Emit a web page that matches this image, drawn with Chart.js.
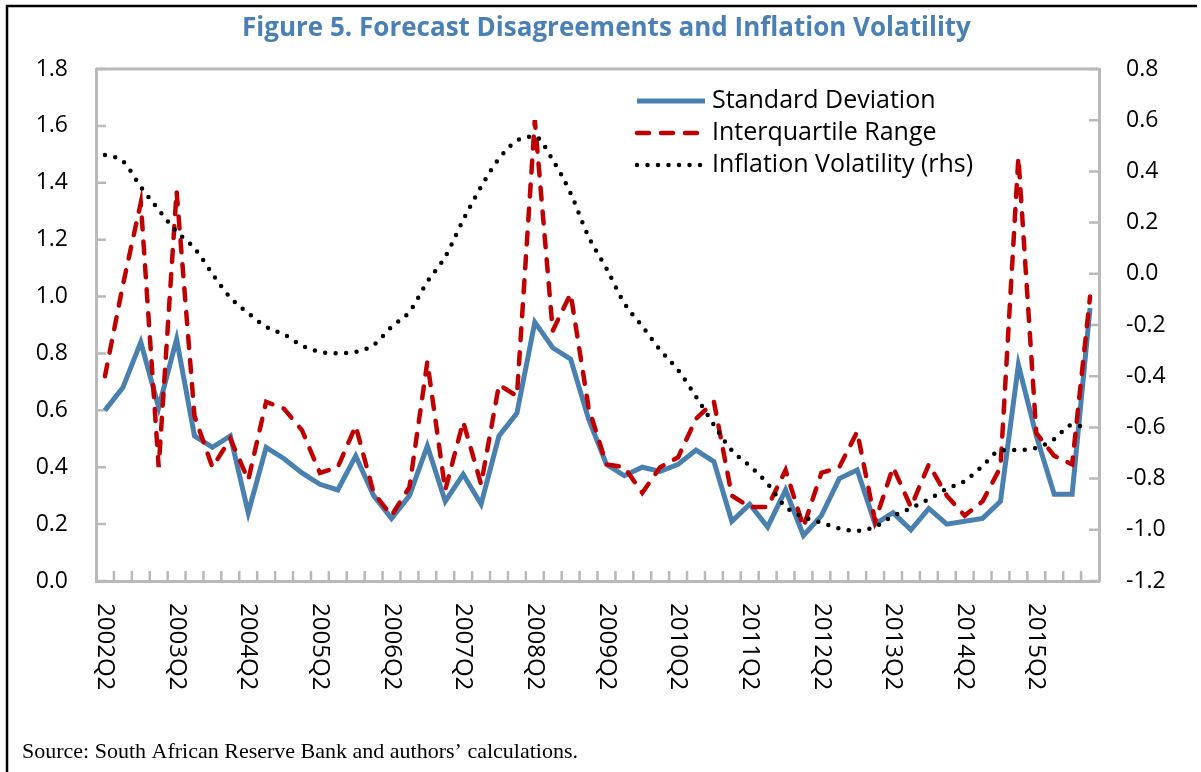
<!DOCTYPE html>
<html>
<head>
<meta charset="utf-8">
<script src="https://cdn.jsdelivr.net/npm/chart.js@4.4.1/dist/chart.umd.min.js"></script>
<style>
  body { margin: 0; background: #fff; }
  #wrap { width: 1201px; height: 772px; }
</style>
</head>
<body>
<div id="wrap"><canvas id="myChart" width="1201" height="772"></canvas></div>
<script>
// quarterly categories, 2002Q2 .. 2016Q1
const quarters = [
  '2002Q2', '2002Q3', '2002Q4', '2003Q1', '2003Q2', '2003Q3', '2003Q4', '2004Q1',
  '2004Q2', '2004Q3', '2004Q4', '2005Q1', '2005Q2', '2005Q3', '2005Q4', '2006Q1',
  '2006Q2', '2006Q3', '2006Q4', '2007Q1', '2007Q2', '2007Q3', '2007Q4', '2008Q1',
  '2008Q2', '2008Q3', '2008Q4', '2009Q1', '2009Q2', '2009Q3', '2009Q4', '2010Q1',
  '2010Q2', '2010Q3', '2010Q4', '2011Q1', '2011Q2', '2011Q3', '2011Q4', '2012Q1',
  '2012Q2', '2012Q3', '2012Q4', '2013Q1', '2013Q2', '2013Q3', '2013Q4', '2014Q1',
  '2014Q2', '2014Q3', '2014Q4', '2015Q1', '2015Q2', '2015Q3', '2015Q4', '2016Q1'
];

// left axis
const stdDev = [
  0.60, 0.68, 0.84, 0.61, 0.85, 0.51, 0.47, 0.51,
  0.24, 0.47, 0.43, 0.38, 0.34, 0.32, 0.44, 0.30,
  0.22, 0.30, 0.475, 0.28, 0.375, 0.27, 0.51, 0.59,
  0.91, 0.82, 0.78, 0.57, 0.41, 0.37, 0.40, 0.385,
  0.41, 0.46, 0.42, 0.21, 0.27, 0.19, 0.32, 0.16,
  0.23, 0.36, 0.39, 0.20, 0.24, 0.18, 0.255, 0.20,
  0.21, 0.22, 0.28, 0.76, 0.51, 0.305, 0.305, 0.96
];

const iqRange = [
  0.72, 1.04, 1.33, 0.40, 1.37, 0.58, 0.40, 0.50,
  0.355, 0.63, 0.605, 0.53, 0.38, 0.40, 0.545, 0.31,
  0.23, 0.33, 0.77, 0.32, 0.56, 0.34, 0.69, 0.65,
  1.62, 0.88, 1.01, 0.61, 0.41, 0.40, 0.31, 0.40,
  0.435, 0.57, 0.63, 0.30, 0.26, 0.26, 0.39, 0.19,
  0.38, 0.40, 0.525, 0.21, 0.40, 0.26, 0.41, 0.30,
  0.23, 0.28, 0.40, 1.49, 0.52, 0.44, 0.41, 1.00
];

// right axis (rhs)
const inflVol = [
  0.464, 0.44, 0.34, 0.25, 0.165, 0.10, 0.00, -0.093,
  -0.154, -0.207, -0.237, -0.28, -0.305, -0.31, -0.305, -0.278,
  -0.207, -0.148, -0.031, 0.067, 0.21, 0.34, 0.45, 0.52,
  0.536, 0.445, 0.314, 0.145, 0.021, -0.115, -0.205, -0.298,
  -0.376, -0.48, -0.59, -0.69, -0.75, -0.82, -0.91, -0.95,
  -0.972, -0.995, -1.004, -0.988, -0.946, -0.915, -0.88, -0.84,
  -0.81, -0.75, -0.69, -0.688, -0.68, -0.646, -0.59, -0.605
];

const leftRange = [0, 1.8];
const rightRange = [-1.2, 0.8];
const tickStep = 0.2;

const axisGrey = '#b9b9b9';
const fontFamily = '"Open Sans", "Noto Sans", sans-serif';

const fmt = v => (Math.abs(v) < 1e-9 ? 0 : v).toFixed(1);

const extras = {
  id: 'extras',
  beforeDraw(chart) {
    const ctx = chart.ctx;
    ctx.save();
    ctx.fillStyle = '#fff';
    ctx.fillRect(0, 0, chart.width, chart.height);
    // figure frame (left and top)
    ctx.strokeStyle = '#000';
    ctx.lineWidth = 2.5;
    ctx.beginPath();
    ctx.moveTo(7, chart.height);
    ctx.lineTo(7, 6);
    ctx.lineTo(1197, 6);
    ctx.stroke();
    ctx.restore();
  },
  beforeDatasetsDraw(chart) {
    const {ctx, chartArea: a, scales: {x, y, y1}} = chart;
    ctx.save();
    ctx.strokeStyle = axisGrey;
    ctx.lineWidth = 3;
    ctx.beginPath();
    ctx.moveTo(a.left, a.top);
    ctx.lineTo(a.right, a.top);
    ctx.stroke();
    // inward tick marks
    ctx.lineWidth = 2.5;
    ctx.beginPath();
    y.ticks.forEach((t, i) => {
      const py = y.getPixelForTick(i);
      ctx.moveTo(a.left, py);
      ctx.lineTo(a.left + 10, py);
    });
    y1.ticks.forEach((t, i) => {
      const py = y1.getPixelForTick(i);
      ctx.moveTo(a.right, py);
      ctx.lineTo(a.right - 10, py);
    });
    const half = (x.getPixelForValue(1) - x.getPixelForValue(0)) / 2;
    quarters.forEach((q, i) => {
      if (i === 0) return;
      const px = x.getPixelForValue(i) - half;
      ctx.moveTo(px, a.bottom);
      ctx.lineTo(px, a.bottom - 10);
    });
    ctx.stroke();
    ctx.restore();
  },
  afterDraw(chart) {
    const {ctx, chartArea: a, scales: {x}} = chart;
    ctx.save();
    // vertical year labels, reading downwards
    ctx.fillStyle = '#000';
    ctx.font = '24px ' + fontFamily;
    ctx.textAlign = 'left';
    ctx.textBaseline = 'middle';
    quarters.forEach((q, i) => {
      if (!q.endsWith('Q2')) return;
      ctx.save();
      ctx.translate(x.getPixelForValue(i), a.bottom + 22);
      ctx.rotate(Math.PI / 2);
      ctx.fillText(q, 0, 0);
      ctx.restore();
    });
    // legend inside the plot
    const lx = a.right - 464;
    const ly = a.top + 32;
    chart.data.datasets.forEach((ds, k) => {
      const yy = ly + k * 32;
      ctx.save();
      ctx.strokeStyle = ds.borderColor;
      ctx.lineWidth = ds.borderWidth;
      ctx.setLineDash(ds.borderDash || []);
      ctx.lineCap = ds.borderCapStyle || 'butt';
      ctx.beginPath();
      ctx.moveTo(lx + 2, yy);
      ctx.lineTo(lx + 70, yy);
      ctx.stroke();
      ctx.fillStyle = '#000';
      ctx.font = '25px ' + fontFamily;
      ctx.textBaseline = 'middle';
      ctx.fillText(ds.label, lx + 77, yy);
      ctx.restore();
    });
    ctx.restore();
  }
};

const ctx = document.getElementById('myChart').getContext('2d');
const myChart = new Chart(ctx, {
  type: 'line',
  data: {
    labels: quarters,
    datasets: [
      {
        label: 'Standard Deviation',
        data: stdDev,
        yAxisID: 'y',
        borderColor: '#4a80b0',
        borderWidth: 5,
        pointRadius: 0,
        tension: 0,
        order: 3
      },
      {
        label: 'Interquartile Range',
        data: iqRange,
        yAxisID: 'y',
        borderColor: '#c00000',
        borderWidth: 4.5,
        borderDash: [12, 12],
        borderCapStyle: 'round',
        pointRadius: 0,
        tension: 0,
        order: 2
      },
      {
        label: 'Inflation Volatility (rhs)',
        data: inflVol,
        yAxisID: 'y1',
        borderColor: '#000000',
        borderWidth: 4.5,
        borderDash: [0, 10.5],
        borderCapStyle: 'round',
        pointRadius: 0,
        cubicInterpolationMode: 'monotone',
        order: 1
      }
    ]
  },
  options: {
    responsive: false,
    animation: false,
    devicePixelRatio: 1,
    layout: {
      padding: { left: 22, right: 10, top: 0, bottom: 0 }
    },
    plugins: {
      legend: { display: false },
      tooltip: { enabled: false },
      title: {
        display: true,
        text: 'Figure 5. Forecast Disagreements and Inflation Volatility',
        color: '#4a80b5',
        font: { family: fontFamily, size: 26, weight: 'bold' },
        padding: { top: 13, bottom: 24.8 }
      },
      subtitle: {
        display: true,
        position: 'bottom',
        align: 'start',
        text: 'Source: South African Reserve Bank and authors\u2019 calculations.',
        color: '#000',
        font: { family: '"Liberation Serif", "Times New Roman", serif', size: 22 },
        padding: { top: 0, bottom: 7 }
      }
    },
    scales: {
      x: {
        type: 'category',
        offset: true,
        grid: { display: true, offset: true, drawOnChartArea: false, drawTicks: false },
        border: { display: true, color: axisGrey, width: 3 },
        ticks: { display: false },
        afterFit(scale) { scale.height = 157.6; }
      },
      y: {
        position: 'left',
        min: leftRange[0],
        max: leftRange[1],
        grid: { display: true, drawOnChartArea: false, drawTicks: false },
        border: { display: true, color: axisGrey, width: 3 },
        ticks: {
          stepSize: tickStep,
          padding: 28,
          color: '#000',
          font: { family: fontFamily, size: 23 },
          callback: fmt
        },
        afterFit(scale) { scale.width = 74; }
      },
      y1: {
        position: 'right',
        min: rightRange[0],
        max: rightRange[1],
        grid: { display: true, drawOnChartArea: false, drawTicks: false },
        border: { display: true, color: axisGrey, width: 3 },
        ticks: {
          stepSize: tickStep,
          padding: 27,
          color: '#000',
          font: { family: fontFamily, size: 23 },
          callback: fmt
        },
        afterFit(scale) { scale.width = 92; }
      }
    }
  },
  plugins: [extras]
});
</script>
</body>
</html>
